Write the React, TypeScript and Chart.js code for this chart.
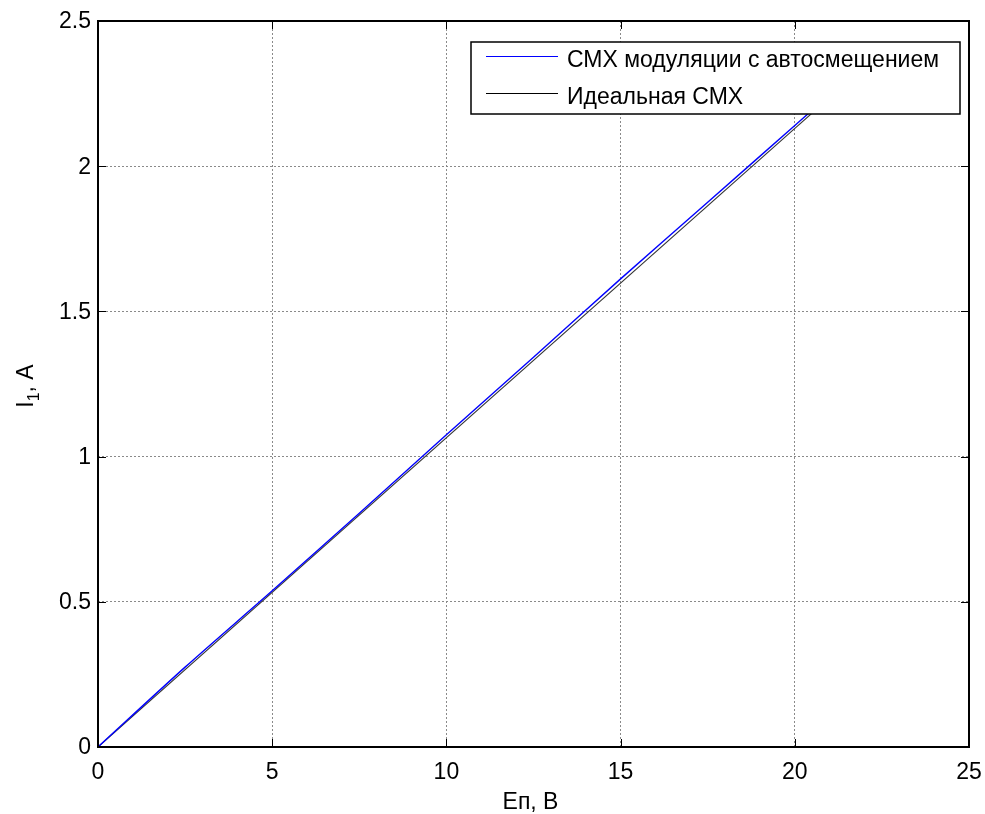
import React, { useEffect, useRef } from "react";
import { Chart, registerables } from "chart.js";

Chart.register(...registerables);

// ---- data ----
const modulationX = [0, 2.5, 5, 7.5, 10, 12.5, 15, 17.5, 20, 22.5];
const modulationY = [0, 0.275, 0.538, 0.805, 1.075, 1.342, 1.612, 1.876, 2.14, 2.405];
const idealX = [0, 22.5];
const idealY = [0, 2.396];
const xTicks = [0, 5, 10, 15, 20, 25];
const yTicks = [0, 0.5, 1, 1.5, 2, 2.5];
const xTickLabels = ["0", "5", "10", "15", "20", "25"];
const yTickLabels = ["0", "0.5", "1", "1.5", "2", "2.5"];
const seriesLabels = ["СМХ модуляции с автосмещением", "Идеальная СМХ"];
const seriesColors = ["#0000ff", "#000000"];
const xTitle = "Еп, В";
const yTitleMain = "I";
const yTitleSub = "1";
const yTitleRest = ", A";

const FONT = "'Liberation Sans', Arial, sans-serif";
const FS = 23;

const matlabPlugin = {
  id: "matlabDecor",
  afterDatasetsDraw(chart: any) {
    const ctx = chart.ctx as CanvasRenderingContext2D;
    const { left, right, top, bottom } = chart.chartArea;
    const xs = chart.scales.x;
    const ys = chart.scales.y;
    ctx.save();
    // box
    ctx.strokeStyle = "#000";
    ctx.lineWidth = 2;
    ctx.strokeRect(left, top, right - left, bottom - top);
    // ticks (inward, all four sides)
    ctx.lineWidth = 1;
    const tl = 8;
    xTicks.forEach((v) => {
      const px = Math.round(xs.getPixelForValue(v)) + 0.5;
      ctx.beginPath();
      ctx.moveTo(px, bottom);
      ctx.lineTo(px, bottom - tl);
      ctx.moveTo(px, top);
      ctx.lineTo(px, top + tl);
      ctx.stroke();
    });
    yTicks.forEach((v) => {
      const py = Math.round(ys.getPixelForValue(v)) + 0.5;
      ctx.beginPath();
      ctx.moveTo(left, py);
      ctx.lineTo(left + tl, py);
      ctx.moveTo(right, py);
      ctx.lineTo(right - tl, py);
      ctx.stroke();
    });
    // tick labels
    ctx.fillStyle = "#000";
    ctx.font = `${FS}px ${FONT}`;
    ctx.textBaseline = "alphabetic";
    ctx.textAlign = "center";
    xTicks.forEach((v, i) => {
      ctx.fillText(xTickLabels[i], xs.getPixelForValue(v), 779);
    });
    ctx.textAlign = "right";
    ctx.textBaseline = "middle";
    yTicks.forEach((v, i) => {
      ctx.fillText(yTickLabels[i], left - 7, ys.getPixelForValue(v) + 1);
    });
    // x title
    ctx.textAlign = "center";
    ctx.textBaseline = "alphabetic";
    ctx.fillText(xTitle, (left + right) / 2 - 3, 809);
    // y title (rotated, with subscript)
    ctx.save();
    ctx.translate(33, (top + bottom) / 2 + 2);
    ctx.rotate(-Math.PI / 2);
    ctx.textAlign = "left";
    const mainFont = `${FS}px ${FONT}`;
    const subFont = `${Math.round(FS * 0.7)}px ${FONT}`;
    ctx.font = mainFont;
    const w1 = ctx.measureText(yTitleMain).width;
    ctx.font = subFont;
    const w2 = ctx.measureText(yTitleSub).width;
    ctx.font = mainFont;
    const w3 = ctx.measureText(yTitleRest).width;
    const total = w1 + w2 + w3;
    let x0 = -total / 2;
    ctx.fillText(yTitleMain, x0, 0);
    x0 += w1;
    ctx.font = subFont;
    ctx.fillText(yTitleSub, x0, 6);
    x0 += w2;
    ctx.font = mainFont;
    ctx.fillText(yTitleRest, x0, 0);
    ctx.restore();
    // legend
    const lx = 471, ly = 42, lw = 489, lh = 72;
    ctx.fillStyle = "#fff";
    ctx.fillRect(lx, ly, lw, lh);
    ctx.strokeStyle = "#000";
    ctx.lineWidth = 1.5;
    ctx.strokeRect(lx, ly, lw, lh);
    const rows = [60, 97];
    ctx.font = `${FS}px ${FONT}`;
    ctx.textAlign = "left";
    ctx.textBaseline = "middle";
    seriesLabels.forEach((lab, i) => {
      ctx.strokeStyle = seriesColors[i];
      ctx.lineWidth = 1;
      ctx.beginPath();
      ctx.moveTo(486, rows[i] - 3.5);
      ctx.lineTo(558, rows[i] - 3.5);
      ctx.stroke();
      ctx.fillStyle = "#000";
      ctx.fillText(lab, 567, rows[i] + 1);
    });
    ctx.restore();
  },
};

export default function App() {
  const ref = useRef<HTMLCanvasElement | null>(null);
  useEffect(() => {
    if (!ref.current) return;
    const chart = new Chart(ref.current, {
      type: "line",
      data: {
        datasets: [
          {
            label: seriesLabels[0],
            data: modulationX.map((x, i) => ({ x, y: modulationY[i] })),
            borderColor: seriesColors[0],
            borderWidth: 1.4,
            pointRadius: 0,
            tension: 0.3,
            fill: false,
          },
          {
            label: seriesLabels[1],
            data: idealX.map((x, i) => ({ x, y: idealY[i] })),
            borderColor: "#333333",
            borderWidth: 1.1,
            pointRadius: 0,
            fill: false,
          },
        ],
      },
      options: {
        animation: false,
        responsive: false,
        devicePixelRatio: 1,
        layout: { padding: { left: 98, right: 16, top: 21, bottom: 67 } },
        plugins: { legend: { display: false }, tooltip: { enabled: false } },
        scales: {
          x: {
            type: "linear",
            min: 0,
            max: 25,
            ticks: { stepSize: 5, display: false },
            grid: { color: "#8a8a8a", lineWidth: 1, drawTicks: false, tickLength: 0 },
            border: { display: false, dash: [2, 2] },
          },
          y: {
            type: "linear",
            min: 0,
            max: 2.5,
            ticks: { stepSize: 0.5, display: false },
            grid: { color: "#8a8a8a", lineWidth: 1, drawTicks: false, tickLength: 0 },
            border: { display: false, dash: [2, 2] },
          },
        },
      },
      plugins: [matlabPlugin],
    });
    return () => chart.destroy();
  }, []);
  return (
    <div style={{ position: "absolute", left: 0, top: 0, width: 985, height: 814, background: "#fff" }}>
      <canvas ref={ref} width={985} height={814} style={{ width: 985, height: 814, display: "block" }} />
    </div>
  );
}
